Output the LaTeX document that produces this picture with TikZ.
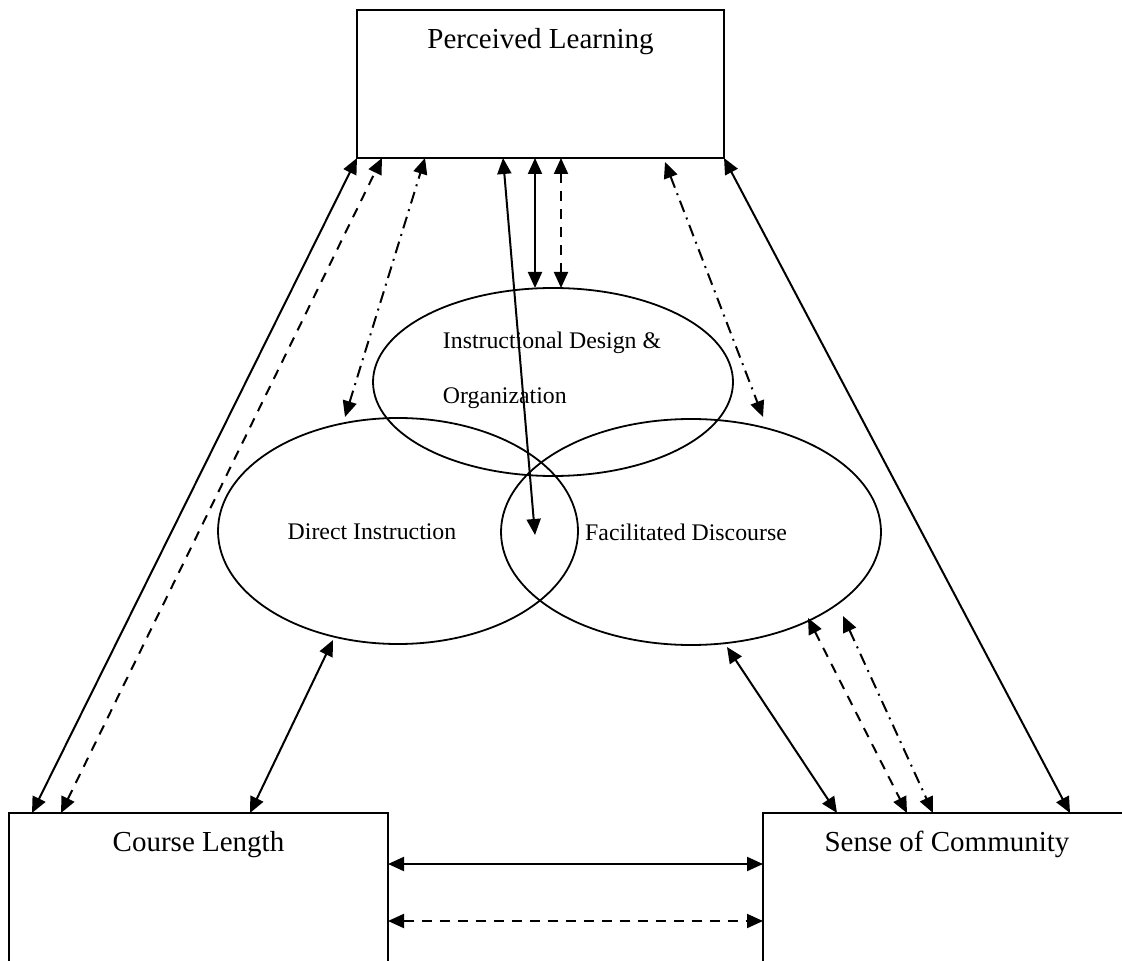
\documentclass[tikz,border=0pt]{standalone}
\usepackage{fontspec}
\setmainfont{Liberation Serif}
\usetikzlibrary{arrows.meta,shapes.geometric,calc}
\begin{document}
\begin{tikzpicture}[x=0.5pt,y=-0.5pt,
  box/.style={draw, line width=0.9pt, rectangle, inner sep=0pt, outer sep=0pt},
  oval/.style={draw, line width=0.9pt, ellipse, inner sep=0pt, outer sep=0pt},
  bigtext/.style={font=\fontsize{14.5}{17}\selectfont, inner sep=0pt},
  smalltext/.style={font=\fontsize{11.9}{27.5}\selectfont, inner sep=0pt},
  link/.style={line width=1pt, {Triangle[length=8pt,width=7pt]}-{Triangle[length=8pt,width=7pt]}},
  dashlink/.style={link, dash pattern=on 5pt off 4pt},
  dotlink/.style={link, dash pattern=on 6pt off 3pt on 1pt off 3pt}
]
\useasboundingbox (0,0) rectangle (1122,961);

% boxes
\node[box, minimum width=183.5pt, minimum height=74pt] (pl) at (540.5,84) {};
\node[bigtext, anchor=base] (plt) at (540.5,49) {Perceived Learning};
\node[box, minimum width=189.5pt, minimum height=100pt] (cl) at (198.5,913) {};
\node[bigtext, anchor=base] (clt) at (198.5,851) {Course Length};
\node[box, minimum width=184pt, minimum height=100pt] (sc) at (947,913) {};
\node[bigtext, anchor=base] (sct) at (947,851) {Sense of Community};

% ellipses
\node[oval, minimum width=180pt, minimum height=94pt] (id) at (553,382) {};
\node[oval, minimum width=180pt, minimum height=113pt] (di) at (398,531) {};
\node[oval, minimum width=190pt, minimum height=113pt] (fd) at (691,532) {};
\node[smalltext, align=left] (idt) at (552,370) {Instructional Design \&\\Organization};
\node[smalltext, anchor=base] (dit) at (372,539) {Direct Instruction};
\node[smalltext, anchor=base] (fdt) at (686,540) {Facilitated Discourse};

\coordinate (mid) at (535,535);

% links to Perceived Learning
\draw[link] ($(cl.north west)+(23,0)$) -- (pl.south west);
\draw[dashlink] ($(cl.north west)+(52,0)$) -- ($(pl.south west)+(25,0)$);
\draw[dotlink] ($(di.north)+(-53,-1)$) -- ($(pl.south west)+(68,0)$);
\draw[link] (mid) -- ($(pl.south west)+(146,0)$);
\draw[link] ($(pl.south west)+(178,0)$) -- ($(id.north)+(-18,0)$);
\draw[dashlink] ($(pl.south west)+(204,0)$) -- ($(id.north)+(8,0)$);
\draw[dotlink] ($(pl.south east)+(-59,4)$) -- ($(fd.north)+(72,-2)$);
\draw[link] (pl.south east) -- ($(sc.north west)+(307,0)$);

% links to the bottom boxes
\draw[link] ($(cl.north west)+(241,0)$) -- ($(di.south)+(-65,-4)$);
\draw[link] ($(fd.south)+(36,2)$) -- ($(sc.north west)+(74,0)$);
\draw[dashlink] ($(fd.south)+(117,-27)$) -- ($(sc.north west)+(144,0)$);
\draw[dotlink] ($(fd.south)+(152,-29)$) -- ($(sc.north west)+(170,0)$);
\draw[link] ($(cl.north east)+(0,51)$) -- ($(sc.north west)+(0,51)$);
\draw[dashlink] ($(cl.north east)+(0,108)$) -- ($(sc.north west)+(0,108)$);
\end{tikzpicture}
\end{document}
